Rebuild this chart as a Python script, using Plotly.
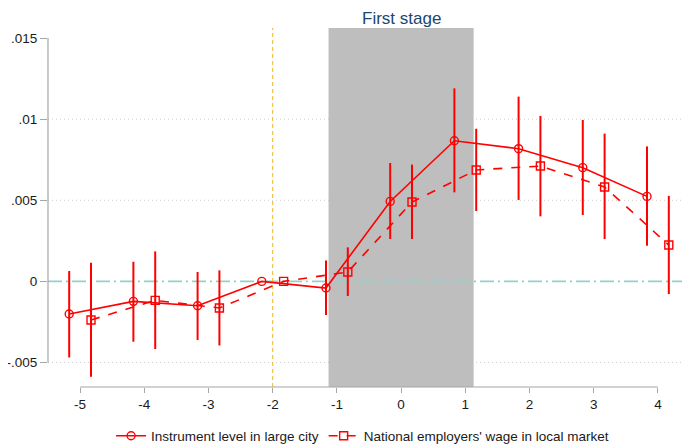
import plotly.graph_objects as go

# ---- data ----
periods = [-5, -4, -3, -2, -1, 0, 1, 2, 3, 4]
x_ticks = [-5, -4, -3, -2, -1, 0, 1, 2, 3, 4]
y_ticks = [-0.005, 0, 0.005, 0.01, 0.015]
y_tick_labels = ["-.005", "0", ".005", ".01", ".015"]

inst_name = "Instrument level in large city"
inst_coef = [-0.00201, -0.00123, -0.00150, 0.0, -0.00041, 0.00493, 0.00867, 0.00818, 0.00701, 0.00524]
inst_hi = [0.00064, 0.00121, 0.00058, None, 0.00129, 0.00730, 0.01190, 0.01139, 0.00995, 0.00832]
inst_lo = [-0.00469, -0.00372, -0.00361, None, -0.00207, 0.00261, 0.00549, 0.00502, 0.00409, 0.00220]

wage_name = "National employers' wage in local market"
wage_coef = [-0.00238, -0.00117, -0.00164, 0.0, 0.00058, 0.00489, 0.00687, 0.00711, 0.00582, 0.00224]
wage_hi = [0.00115, 0.00185, 0.00068, None, 0.00210, 0.00720, 0.00941, 0.01020, 0.00911, 0.00527]
wage_lo = [-0.00588, -0.00417, -0.00395, None, -0.00090, 0.00261, 0.00434, 0.00401, 0.00261, -0.00078]

offset = 0.17
shade_start, shade_end = -1.13, 1.13
ref_period = -2
shade_label = "First stage"

RED = "#ff0000"
FONT = "Arial, Liberation Sans, sans-serif"


def err(c, hi, lo):
    up = [(h - v) if h is not None else 0 for v, h in zip(c, hi)]
    dn = [(v - l) if l is not None else 0 for v, l in zip(c, lo)]
    return up, dn


fig = go.Figure()

iu, idn = err(inst_coef, inst_hi, inst_lo)
fig.add_trace(go.Scatter(
    x=[p - offset for p in periods], y=inst_coef, name=inst_name,
    mode="lines+markers",
    line=dict(color=RED, width=1.6),
    marker=dict(symbol="circle-open", size=8, color=RED, line=dict(width=1.4, color=RED)),
    error_y=dict(type="data", symmetric=False, array=iu, arrayminus=idn,
                 color=RED, thickness=2, width=0),
))

wu, wdn = err(wage_coef, wage_hi, wage_lo)
fig.add_trace(go.Scatter(
    x=[p + offset for p in periods], y=wage_coef, name=wage_name,
    mode="lines+markers",
    line=dict(color=RED, width=1.6, dash="dash"),
    marker=dict(symbol="square-open", size=8, color=RED, line=dict(width=1.4, color=RED)),
    error_y=dict(type="data", symmetric=False, array=wu, arrayminus=wdn,
                 color=RED, thickness=2, width=0),
))

shapes = []
# dotted grid lines (under shading)
for yv in [-0.005, 0.005, 0.01]:
    shapes.append(dict(type="line", xref="paper", yref="y", x0=0, x1=1, y0=yv, y1=yv,
                       line=dict(color="#cccccc", width=1, dash="1px,3px"), layer="below"))
# shaded first-stage region
shapes.append(dict(type="rect", xref="x", yref="paper", x0=shade_start, x1=shade_end, y0=0, y1=1,
                   fillcolor="#bebebe", line=dict(width=0), layer="below"))
# zero line
shapes.append(dict(type="line", xref="paper", yref="y", x0=0, x1=1, y0=0, y1=0,
                   line=dict(color="#8fd3cb", width=1.6, dash="14px,4px,2px,4px"), layer="below"))
# reference period line
shapes.append(dict(type="line", xref="x", yref="paper", x0=ref_period, x1=ref_period, y0=0, y1=1,
                   line=dict(color="#f0b428", width=1, dash="4px,3px"), layer="below"))
# axis lines (Stata style, spanning only tick range)
shapes.append(dict(type="line", xref="paper", yref="y", x0=0, x1=0, y0=y_ticks[0], y1=y_ticks[-1],
                   line=dict(color="#a6a6a6", width=1.2)))
shapes.append(dict(type="line", xref="x", yref="paper", x0=x_ticks[0], x1=x_ticks[-1], y0=0, y1=0,
                   line=dict(color="#a6a6a6", width=1.2)))

# page body has an 8px margin, so the figure is 8px smaller and margins shifted
fig.update_layout(
    width=682, height=436,
    margin=dict(l=40, r=0, t=20, b=57, autoexpand=False),
    paper_bgcolor="white", plot_bgcolor="white",
    font=dict(family=FONT, size=13.5, color="#1a1a1a"),
    shapes=shapes,
    showlegend=True,
    legend=dict(orientation="h", x=0.49, xanchor="center", y=-0.1365, yanchor="middle",
                font=dict(size=13.5, color="#1a1a1a"), itemwidth=30, bgcolor="rgba(0,0,0,0)"),
    annotations=[dict(text=shade_label, x=0, xref="x", y=1.0, yref="paper",
                      xanchor="center", yanchor="bottom", yshift=-1, showarrow=False,
                      borderpad=0,
                      font=dict(family=FONT, size=17, color="#1a476f"))],
)
fig.update_xaxes(range=[-5.5, 4.5], tickvals=x_ticks, ticktext=[str(v) for v in x_ticks],
                 showgrid=False, zeroline=False, showline=False, automargin=False,
                 ticks="outside", ticklen=5, tickcolor="#a6a6a6", tickwidth=1.2)
fig.update_yaxes(range=[-0.00651, 0.01562], tickvals=y_ticks, ticktext=y_tick_labels,
                 showgrid=False, zeroline=False, showline=False, automargin=False,
                 ticks="outside", ticklen=7, tickcolor="#a6a6a6", tickwidth=1.2)

fig.write_html("out.html")
